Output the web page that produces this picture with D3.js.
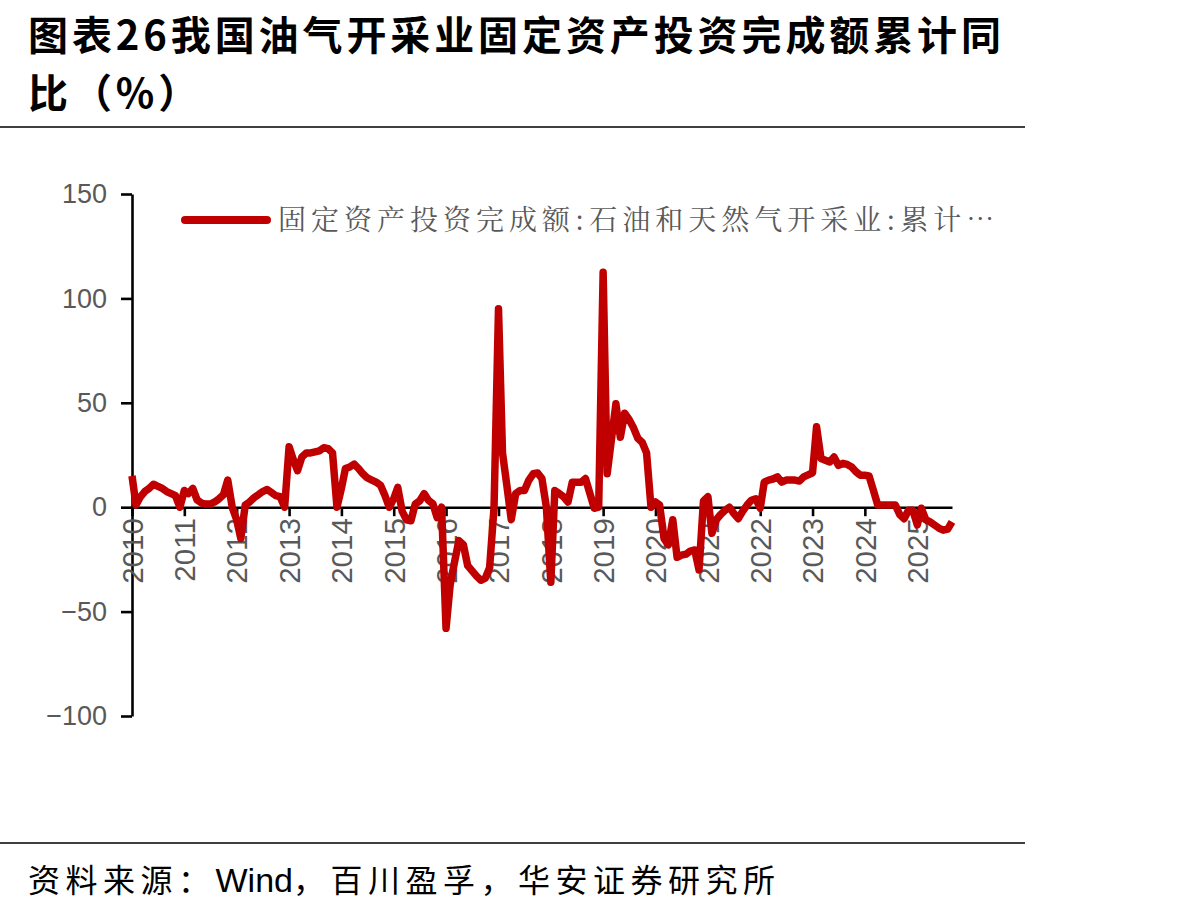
<!DOCTYPE html>
<html><head><meta charset="utf-8">
<script src="https://cdn.jsdelivr.net/npm/d3@7"></script>
<style>body{margin:0;background:#fff;} svg{display:block}</style>
</head><body>
<svg id="c" width="1191" height="910"></svg>
<script>
// ---- text ----
const titleLines = ["图表26我国油气开采业固定资产投资完成额累计同", "比（%）"];
const legendLabel = "固定资产投资完成额:石油和天然气开采业:累计…";
const sourceParts = ["资料来源：", "Wind", "，百川盈孚，华安证券研究所"];
// ---- axes ----
const yTicks = [150, 100, 50, 0, -50, -100];
const yearTicks = [2010,2011,2012,2013,2014,2015,2016,2017,2018,2019,2020,2021,2022,2023,2024,2025];
// ---- series: monthly cumulative YoY (%), Jan..Dec of each year ----
const v2010 = [null, 15, 1, 5, 7.5, 9, 11, 10, 9, 7.5, 6.5, 5.5];
const v2011 = [0, 8, 6.5, 9, 3.5, 2, 1.5, 1.5, 2.5, 4, 6, 13];
const v2012 = [0, -6, -15, 1, 2.5, 4.5, 6, 7.5, 8.5, 7, 5.5, 5];
const v2013 = [0, 29, 23, 17.5, 24, 26, 26, 26.5, 27, 28.5, 28, 26];
const v2014 = [0, 9, 18.5, 19.3, 20.6, 18.5, 16, 14, 13, 12, 10.5, 5.7];
const v2015 = [0, 4, 9.5, -2, -6, -6.5, 1.5, 3, 6.5, 3.3, 1.7, -5];
const v2016 = [0, -58, -37, -26, -16, -18, -28, -30.5, -33, -35, -34, -29];
const v2017 = [0, 95, 26, 10, -6, 6.5, 8, 8, 13, 16, 16.4, 13.7];
const v2018 = [0, -36, 8, 6.5, 5, 2.5, 12, 12, 12, 13.7, 6.5, -0.5];
const v2019 = [0, 112.5, 16, 33, 49.5, 33.5, 45, 42, 38, 33, 31, 26];
const v2020 = [0, 2.5, 1, -15, -18, -6, -24, -23, -22.5, -21, -20.5, -30];
const v2021 = [3, 5, -12.5, -6, -3.5, -1.5, 0, -3, -5.5, -2, 1, 3.3];
const v2022 = [4, -0.5, 12, 13, 13.5, 14.5, 12, 13, 13, 13, 12.5, 14.5];
const v2023 = [15.5, 16.5, 38.5, 23.3, 22.5, 21.7, 24, 20, 21, 20.5, 19.3, 17];
const v2024 = [15.3, 15.3, 15, 8, 1, 1, 1, 1, 1, -3.5, -5.5, -1.5];
const v2025 = [-1.5, -8.5, -0.5, -6, -7, -8.5, -10, -11, -10.5, -7];

const seriesByYear = [v2010,v2011,v2012,v2013,v2014,v2015,v2016,v2017,v2018,v2019,v2020,v2021,v2022,v2023,v2024,v2025];
const data = [];
seriesByYear.forEach((arr, k) => {
  arr.forEach((v, m) => { if (v !== null) data.push({date: new Date(yearTicks[k], m, 1), value: v}); });
});

const svg = d3.select("#c");
const axisGray = "#595959";
const red = "#C00000";

// title
svg.append("g").selectAll("text").data(titleLines).join("text")
  .attr("x", 28).attr("y", (d, i) => 50 + i * 58)
  .attr("font-family", "'Noto Sans CJK SC', sans-serif")
  .attr("font-weight", 700).attr("font-size", 40).attr("letter-spacing", 3.9)
  .attr("fill", "#000").text(d => d);

// rules
svg.append("line").attr("x1", 0).attr("x2", 1025).attr("y1", 127).attr("y2", 127)
  .attr("stroke", "#000").attr("stroke-width", 1.5);
svg.append("line").attr("x1", 0).attr("x2", 1025).attr("y1", 843).attr("y2", 843)
  .attr("stroke", "#000").attr("stroke-width", 1.5);

// source
const src = svg.append("text").attr("x", 28).attr("y", 892)
  .attr("font-family", "'Noto Sans CJK SC', sans-serif").attr("font-size", 32)
  .attr("fill", "#000");
src.selectAll("tspan").data(sourceParts).join("tspan")
  .attr("font-family", (d, i) => i === 1 ? "'Liberation Sans', Arial, sans-serif" : null)
  .attr("font-size", (d, i) => i === 1 ? 34 : null)
  .attr("letter-spacing", (d, i) => i === 1 ? 0 : 5.5)
  .text(d => d);

// scales
const x = d3.scaleTime().domain([new Date(2010, 1, 1), new Date(2025, 9, 1)]).range([132, 952]);
const y = d3.scaleLinear().domain([-100, 150]).range([716, 194]);

// y axis
const yAxis = svg.append("g").attr("transform", `translate(${x.range()[0]},0)`)
  .call(d3.axisLeft(y).tickValues(yTicks).tickSize(11).tickSizeOuter(0).tickPadding(14));
yAxis.select(".domain").attr("stroke", "#000").attr("stroke-width", 2.6);
yAxis.selectAll(".tick line").attr("stroke", "#000").attr("stroke-width", 2.6);
yAxis.selectAll(".tick text").attr("font-family", "'Liberation Sans', Arial, sans-serif")
  .attr("font-size", 27).attr("fill", axisGray);

// x axis at zero
const xAxis = svg.append("g").attr("transform", `translate(0,${y(0)})`)
  .call(d3.axisBottom(x).tickValues(yearTicks.map(yr => new Date(yr, 1, 1)))
    .tickFormat(d3.timeFormat("%Y")).tickSize(9).tickSizeOuter(0));
xAxis.select(".domain").attr("stroke", "#000").attr("stroke-width", 2.6);
xAxis.selectAll(".tick line").attr("stroke", "#000").attr("stroke-width", 2.6);
xAxis.selectAll(".tick text")
  .attr("font-family", "'Liberation Sans', Arial, sans-serif").attr("font-size", 29.5)
  .attr("fill", axisGray)
  .attr("text-anchor", "end").attr("dy", "0.35em")
  .attr("transform", "translate(0,10) rotate(-90)")
  .attr("x", -1).attr("y", 0);

// line
const line = d3.line().x(d => x(d.date)).y(d => y(d.value));
svg.append("path").datum(data).attr("d", line)
  .attr("fill", "none").attr("stroke", red).attr("stroke-width", 7.5)
  .attr("stroke-linejoin", "round").attr("stroke-linecap", "butt");

// legend
const lg = svg.append("g").attr("transform", "translate(185,220)");
lg.append("line").attr("x1", 0).attr("x2", 82).attr("y1", 0).attr("y2", 0)
  .attr("stroke", red).attr("stroke-width", 8).attr("stroke-linecap", "round");
lg.append("text").attr("x", 93).attr("y", 0).attr("dy", "0.36em")
  .attr("font-family", "'Noto Serif CJK SC', 'Noto Sans CJK SC', serif")
  .attr("font-size", 28).attr("fill", axisGray).attr("letter-spacing", 5)
  .text(legendLabel);
</script>
</body></html>
